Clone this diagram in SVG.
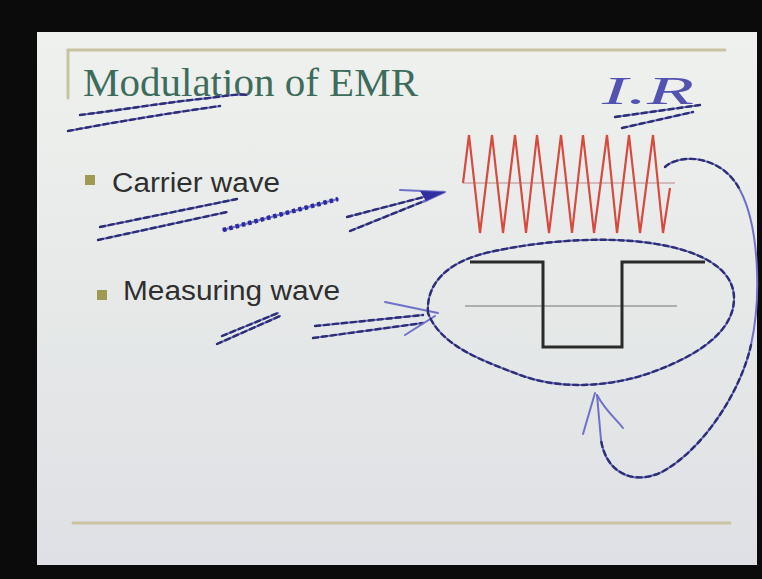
<svg xmlns="http://www.w3.org/2000/svg" xmlns:xlink="http://www.w3.org/1999/xlink" width="762" height="579" viewBox="0 0 762 579">
  <style>
    .gold{fill:none;stroke:#c9c3a2;stroke-width:3;stroke-linecap:round}
    .label{font-family:"Liberation Sans","Arial",sans-serif;font-size:27px;fill:#2f2f2f}
    .bullet{fill:#9e9a52}
    .ink{fill:none;stroke:#7070c8;stroke-width:2;stroke-linecap:round;stroke-linejoin:round}
    .dash{fill:none;stroke:#2e2e72;stroke-width:2.4;stroke-dasharray:5 4;stroke-linecap:round}
    .heavy{fill:none;stroke:#2a2a9a;stroke-width:4.5;stroke-dasharray:3.5 3}
    .midline{fill:none;stroke-width:1.5}
  </style>
  <defs>
    <linearGradient id="bg" x1="0" y1="0" x2="0" y2="1">
      <stop offset="0" stop-color="#eef1ed"/>
      <stop offset="0.5" stop-color="#e6e9e8"/>
      <stop offset="1" stop-color="#dfe0e5"/>
    </linearGradient>
    <path id="ul1" d="M80,115 C120,110 170,102 200,99 C220,97 240,93 247,95"/>
    <path id="ul2" d="M68,131 C110,123 170,113 220,106"/>
    <path id="ir1" d="M615,117 L700,105"/>
    <path id="ir2" d="M622,128 L693,112"/>
    <path id="cw1" d="M100,227 L237,199"/>
    <path id="cw2" d="M98,240 L227,212"/>
    <path id="cw3" d="M347,217 L443,192"/>
    <path id="cw4" d="M350,231 L427,200"/>
    <path id="mw1" d="M217,344 L280,316"/>
    <path id="mw2" d="M222,336 L278,313"/>
    <path id="mw3" d="M315,326 L423,315"/>
    <path id="mw4" d="M313,338 L423,323"/>
    <path id="loop" d="M428,313 C426,285 445,262 490,252 C540,241 600,236 650,243 C700,250 733,268 734,297 C735,330 700,355 650,373 C610,387 560,390 520,375 C480,360 440,345 428,313 Z"/>
    <path id="big" d="M665,167 C680,153 722,155 740,190 C760,228 761,300 751,345 C741,390 705,448 662,472 C632,486 606,472 601,440 L597,395"/>
  </defs>

  <g id="frame">
    <rect x="0" y="0" width="762" height="579" fill="#0b0b0b"/>
    <rect x="37" y="32" width="720" height="533" fill="url(#bg)"/>
    <line class="gold" x1="68" y1="50" x2="725" y2="50"/>
    <line class="gold" x1="68" y1="50" x2="68" y2="98"/>
    <line class="gold" x1="73" y1="523" x2="730" y2="523"/>
  </g>

  <g id="title">
    <text x="83" y="96" font-family="'Liberation Serif','Times New Roman',serif" font-size="40" fill="#3d6c5d" textLength="335" lengthAdjust="spacingAndGlyphs">Modulation of EMR</text>
  </g>

  <g id="carrier-label">
    <rect class="bullet" x="85" y="175" width="10" height="10"/>
    <text class="label" x="112" y="192" textLength="168" lengthAdjust="spacingAndGlyphs">Carrier wave</text>
  </g>

  <g id="measuring-label">
    <rect class="bullet" x="97" y="290" width="10" height="10"/>
    <text class="label" x="123" y="300" textLength="217" lengthAdjust="spacingAndGlyphs">Measuring wave</text>
  </g>

  <g id="carrier-wave">
    <line class="midline" x1="463" y1="183" x2="675" y2="183" stroke="#c9a9a6"/>
    <path d="M463,183 L469,135 L480,233 L492,135 L503,233 L515,135 L526,233 L537,135 L549,233 L561,135 L572,233 L583,135 L594,233 L607,135 L617,233 L629,135 L640,233 L653,135 L663,233 L670,188" fill="none" stroke="#d64a40" stroke-width="2.2" stroke-linejoin="miter"/>
  </g>

  <g id="measuring-wave">
    <line class="midline" x1="465" y1="306" x2="677" y2="306" stroke="#9a9c9a"/>
    <path d="M470,262 H543 V347 H622 V262 H705" fill="none" stroke="#2a2a2a" stroke-width="3"/>
  </g>

  <g id="ir-note">
    <text x="602" y="104" font-family="'Liberation Serif',serif" font-style="italic" font-size="40" fill="#5252b0" textLength="92" lengthAdjust="spacingAndGlyphs">I.R</text>
  </g>

  <g id="connectors">
    <use xlink:href="#ul1" class="ink"/><use xlink:href="#ul1" class="dash"/>
    <use xlink:href="#ul2" class="ink"/><use xlink:href="#ul2" class="dash"/>
    <use xlink:href="#ir1" class="ink"/><use xlink:href="#ir1" class="dash"/>
    <use xlink:href="#ir2" class="ink"/><use xlink:href="#ir2" class="dash"/>
    <use xlink:href="#cw1" class="ink"/><use xlink:href="#cw1" class="dash"/>
    <use xlink:href="#cw2" class="ink"/><use xlink:href="#cw2" class="dash"/>
    <path class="ink" d="M223,230 L338,199" stroke-width="3"/>
    <path class="heavy" d="M223,230 L338,199"/>
    <use xlink:href="#cw3" class="ink"/><use xlink:href="#cw3" class="dash"/>
    <use xlink:href="#cw4" class="ink"/><use xlink:href="#cw4" class="dash"/>
    <path class="ink" d="M400,190 L445,192 L423,202"/>
    <path d="M420,191 L445,192 L426,201 Z" fill="#3030a0"/>
    <use xlink:href="#mw1" class="ink"/><use xlink:href="#mw1" class="dash"/>
    <use xlink:href="#mw2" class="ink"/><use xlink:href="#mw2" class="dash"/>
    <use xlink:href="#mw3" class="ink"/><use xlink:href="#mw3" class="dash"/>
    <use xlink:href="#mw4" class="ink"/><use xlink:href="#mw4" class="dash"/>
    <path class="ink" d="M385,302 L438,313 M405,335 L435,316"/>
    <use xlink:href="#loop" class="ink"/><use xlink:href="#loop" class="dash"/>
    <use xlink:href="#big" class="ink"/>
    <path class="dash" d="M665,167 C680,153 722,155 740,190"/>
    <path class="dash" d="M751,345 C741,390 705,448 662,472 C632,486 606,472 601,440"/>
    <path class="ink" d="M595,393 L583,434 M597,395 C605,410 615,418 623,428"/>
  </g>
</svg>
